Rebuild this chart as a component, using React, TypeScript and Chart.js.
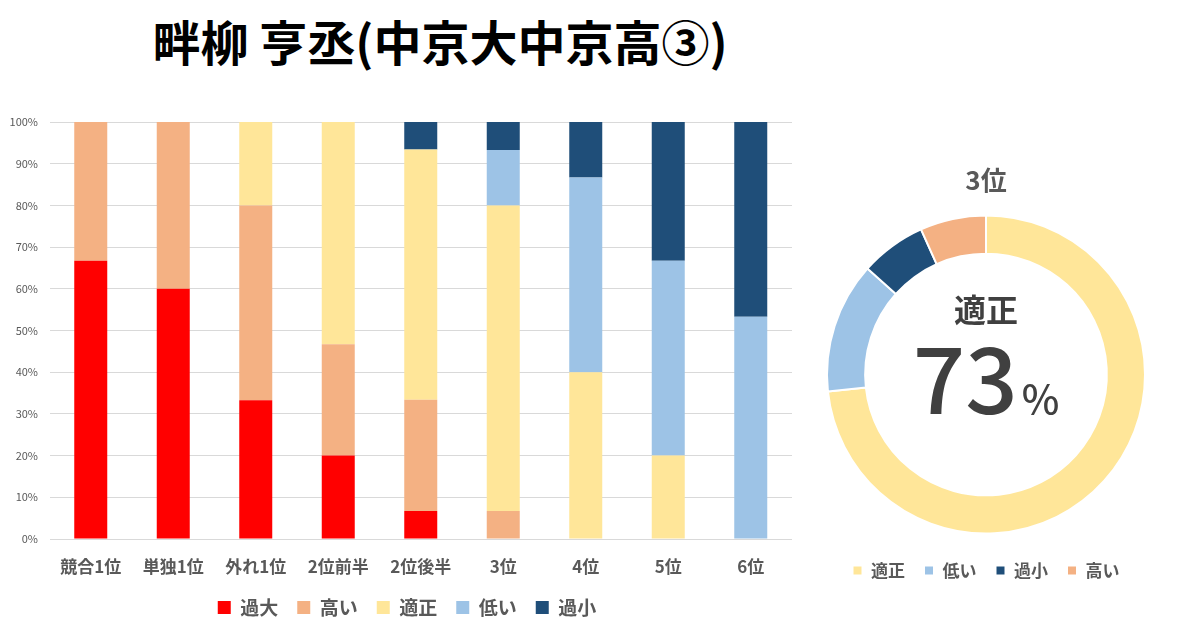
import React, { useEffect, useRef } from "react";
import { Chart, registerables } from "chart.js";

Chart.register(...registerables);

const categories = ["競合1位", "単独1位", "外れ1位", "2位前半", "2位後半", "3位", "4位", "5位", "6位"];
const kadai = [66.7, 60, 33.3, 20, 6.7, 0, 0, 0, 0];
const takai = [33.3, 40, 46.7, 26.7, 26.7, 6.7, 0, 0, 0];
const tekisei = [0, 0, 20, 53.3, 60, 73.3, 40, 20, 0];
const hikui = [0, 0, 0, 0, 0, 13.3, 46.7, 46.7, 53.3];
const kasho = [0, 0, 0, 0, 6.7, 6.7, 13.3, 33.3, 46.7];
const yTicks = [0, 10, 20, 30, 40, 50, 60, 70, 80, 90, 100];

const donutLabels = ["適正", "低い", "過小", "高い"];
const donutValues = [73.3, 13.3, 6.7, 6.7];

const title = "畔柳 亨丞(中京大中京高③)";
const donutTitle = "3位";
const donutCenterLabel = "適正";
const donutCenterValue = "73";

const C_KADAI = "#FF0000";
const C_TAKAI = "#F4B183";
const C_TEKISEI = "#FFE699";
const C_HIKUI = "#9DC3E6";
const C_KASHO = "#1F4E79";
const FONT = "'Noto Sans CJK JP', 'Noto Sans', sans-serif";

const shiftLegend = {
  id: "shiftLegend",
  afterLayout(chart: any) {
    const l = chart.legend;
    if (l) {
      l.left += 11;
      l.right += 11;
    }
  },
};

export default function App() {
  const barRef = useRef<HTMLCanvasElement>(null);
  const donutRef = useRef<HTMLCanvasElement>(null);

  useEffect(() => {
    const bar = new Chart(barRef.current!, {
      type: "bar",
      data: {
        labels: categories,
        datasets: [
          { label: "過大", data: kadai, backgroundColor: C_KADAI },
          { label: "高い", data: takai, backgroundColor: C_TAKAI },
          { label: "適正", data: tekisei, backgroundColor: C_TEKISEI },
          { label: "低い", data: hikui, backgroundColor: C_HIKUI },
          { label: "過小", data: kasho, backgroundColor: C_KASHO },
        ],
      },
      plugins: [shiftLegend],
      options: {
        responsive: false,
        animation: false,
        layout: { padding: { top: 27, right: 8, bottom: 8, left: 0 } },
        datasets: { bar: { categoryPercentage: 0.4, barPercentage: 1 } },
        plugins: {
          tooltip: { enabled: false },
          legend: {
            position: "bottom",
            labels: {
              boxWidth: 13,
              boxHeight: 13,
              padding: 19,
              color: "#595959",
              font: { family: FONT, size: 19, weight: "bold" },
            },
          },
        },
        scales: {
          x: {
            stacked: true,
            grid: { display: false, drawTicks: false },
            border: { display: false },
            ticks: {
              padding: 17,
              color: "#595959",
              font: { family: FONT, size: 17, weight: "bold" },
              maxRotation: 0,
              autoSkip: false,
            },
            afterFit: (s: any) => {
              s.height = 40;
            },
          },
          y: {
            stacked: true,
            min: 0,
            max: 100,
            afterBuildTicks: (s: any) => {
              s.ticks = yTicks.map((v) => ({ value: v }));
            },
            grid: { color: "#D9D9D9", drawTicks: false },
            border: { display: false },
            ticks: {
              padding: 11.5,
              color: "#595959",
              font: { family: FONT, size: 11 },
              callback: (v: any) => v + "%",
            },
            afterFit: (s: any) => {
              s.width = 49.5;
            },
          },
        },
      },
    });

    const donut = new Chart(donutRef.current!, {
      type: "doughnut",
      data: {
        labels: donutLabels,
        datasets: [
          {
            data: donutValues,
            backgroundColor: [C_TEKISEI, C_HIKUI, C_KASHO, C_TAKAI],
            borderColor: "#FFFFFF",
            borderWidth: 2,
          },
        ],
      },
      options: {
        responsive: false,
        animation: false,
        cutout: "76%",
        layout: { padding: { top: 10, left: 20, right: 20, bottom: 7 } },
        plugins: {
          tooltip: { enabled: false },
          legend: {
            position: "bottom",
            labels: {
              boxWidth: 10,
              boxHeight: 10,
              padding: 19,
              color: "#595959",
              font: { family: FONT, size: 17, weight: "bold" },
            },
          },
        },
      },
    });

    return () => {
      bar.destroy();
      donut.destroy();
    };
  }, []);

  return (
    <div
      style={{
        position: "absolute",
        left: 0,
        top: 0,
        width: 1199,
        height: 635,
        background: "#FFFFFF",
        overflow: "hidden",
        fontFamily: FONT,
      }}
    >
      <div
        style={{
          position: "absolute",
          left: 0,
          width: 880,
          top: 8,
          textAlign: "center",
          fontSize: 48,
          fontWeight: "bold",
          color: "#000000",
          lineHeight: "64px",
        }}
      >
        {title}
      </div>
      <canvas
        ref={barRef}
        width={800}
        height={540}
        style={{ position: "absolute", left: 0, top: 95, width: 800, height: 540 }}
      />
      <canvas
        ref={donutRef}
        width={360}
        height={400}
        style={{ position: "absolute", left: 806, top: 196, width: 360, height: 400 }}
      />
      <div
        style={{
          position: "absolute",
          left: 886,
          width: 200,
          top: 161,
          textAlign: "center",
          fontSize: 26,
          fontWeight: "bold",
          color: "#595959",
          lineHeight: "36px",
        }}
      >
        {donutTitle}
      </div>
      <div
        style={{
          position: "absolute",
          left: 886,
          width: 200,
          top: 288,
          textAlign: "center",
          fontSize: 32,
          fontWeight: "bold",
          color: "#404040",
          lineHeight: "40px",
        }}
      >
        {donutCenterLabel}
      </div>
      <div
        style={{
          position: "absolute",
          left: 886,
          width: 200,
          top: 322,
          display: "flex",
          justifyContent: "center",
          alignItems: "baseline",
          color: "#404040",
          fontWeight: 500,
        }}
      >
        <span style={{ fontSize: 92, lineHeight: "104px" }}>{donutCenterValue}</span>
        <span style={{ fontSize: 40, marginLeft: 4 }}>%</span>
      </div>
    </div>
  );
}
